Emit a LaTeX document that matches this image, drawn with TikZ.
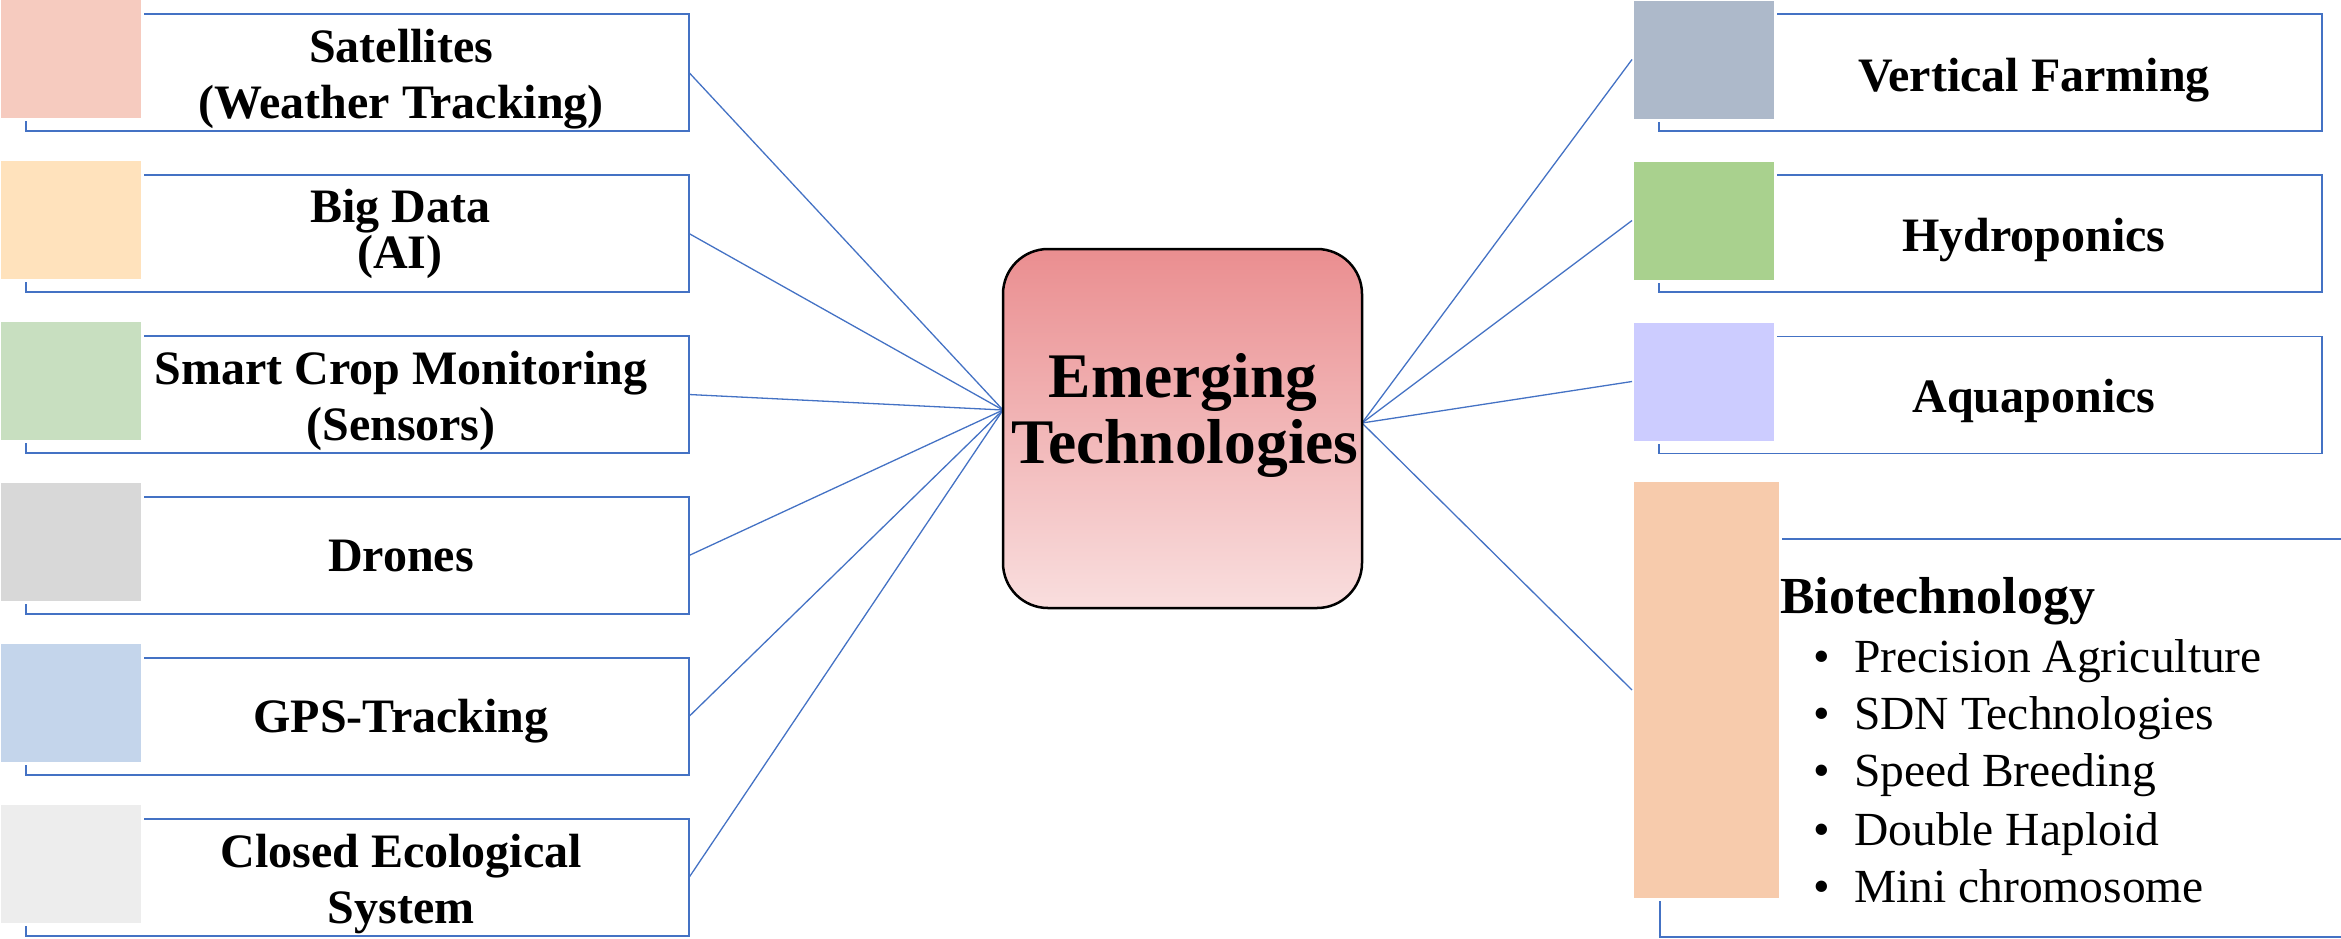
\documentclass[tikz,border=0pt]{standalone}
\usepackage{fontspec}
\setmainfont{Liberation Serif}
\definecolor{oblue}{RGB}{68,114,196}
\definecolor{cA}{RGB}{246,203,191}
\definecolor{cB}{RGB}{255,226,188}
\definecolor{cC}{RGB}{200,223,192}
\definecolor{cD}{RGB}{216,216,216}
\definecolor{cE}{RGB}{196,213,235}
\definecolor{cF}{RGB}{237,237,237}
\definecolor{cG}{RGB}{173,185,202}
\definecolor{cH}{RGB}{169,209,142}
\definecolor{cI}{RGB}{204,204,255}
\definecolor{cJ}{RGB}{247,203,172}
\definecolor{ctop}{RGB}{234,142,144}
\definecolor{cbot}{RGB}{249,222,222}
\newcommand\labfont{\fontsize{48}{56}\selectfont\bfseries}
\newcommand\biofont{\fontsize{52}{60}\selectfont\bfseries}
\newcommand\itemfont{\fontsize{47.5}{56}\selectfont}
\newcommand\cenfont{\fontsize{63.5}{66}\selectfont\bfseries}
\begin{document}
\begin{tikzpicture}[x=1pt,y=-1pt,
  outl/.style={draw=oblue, line width=1.5pt, fill=white, rectangle, inner sep=0pt, outer sep=0pt, minimum width=663pt, minimum height=117pt},
  sq/.style={draw=white, line width=3pt, fill=#1, rectangle, inner sep=0pt, outer sep=0pt, minimum width=143pt, minimum height=121pt},
  conn/.style={draw=oblue, line width=1.3pt},
  lab/.style={inner sep=0pt, anchor=base, font=\labfont},
  cen/.style={draw=black, line width=2.5pt, rounded corners=45pt, top color=ctop, bottom color=cbot, minimum width=359pt, minimum height=359pt, inner sep=0pt, outer sep=0pt}
]
\path[use as bounding box] (0,0) rectangle (2341,938);
\clip (0,0) rectangle (2341,938);

% connection points on the central box
\coordinate (cl) at (1003,410);
\coordinate (cr) at (1362,423);

% left outlines
\node[outl] (L1) at (357.5,72.5) {};
\node[outl] (L2) at (357.5,233.5) {};
\node[outl] (L3) at (357.5,394.5) {};
\node[outl] (L4) at (357.5,555.5) {};
\node[outl] (L5) at (357.5,716.5) {};
\node[outl] (L6) at (357.5,877.5) {};
% left squares
\node[sq=cA] (sL1) at (70.5,59) {};
\node[sq=cB] (sL2) at (70.5,220) {};
\node[sq=cC] (sL3) at (70.5,381) {};
\node[sq=cD] (sL4) at (70.5,542) {};
\node[sq=cE] (sL5) at (70.5,703) {};
\node[sq=cF] (sL6) at (70.5,864) {};

% right outlines
\node[outl] (R1) at (1990.5,72.5) {};
\node[outl] (R2) at (1990.5,233.5) {};
\node[outl] (R3) at (1990.5,395) {};
\node[outl, minimum width=740pt, minimum height=398pt] (R4) at (2030,738) {};
% right squares
\node[sq=cG] (sR1) at (1703.5,59.5) {};
\node[sq=cH] (sR2) at (1703.5,220.5) {};
\node[sq=cI] (sR3) at (1703.5,381.5) {};
\node[sq=cJ, minimum width=148pt, minimum height=419pt] (sR4) at (1706,690) {};

% connectors
\foreach \n in {L1,L2,L3,L4,L5,L6} \draw[conn] (\n.east) -- (cl);
\foreach \n in {sR1,sR2,sR3,sR4} \draw[conn] (cr) -- (\n.west);

% centre
\node[cen] (C) at (1182.5,428.5) {};
\node[inner sep=0pt, anchor=base, font=\cenfont] (c1) at (1183,397) {Emerging};
\node[inner sep=0pt, anchor=base, font=\cenfont] (c2) at (1185,463) {Technologies};

% left labels
\node[lab] (t1a) at (401,62) {Satellites};
\node[lab] (t1b) at (401,118) {(Weather Tracking)};
\node[lab] (t2a) at (400,222) {Big Data};
\node[lab] (t2b) at (400,268) {(AI)};
\node[lab] (t3a) at (401,384) {Smart Crop Monitoring};
\node[lab] (t3b) at (401,440) {(Sensors)};
\node[lab] (t4) at (401,571) {Drones};
\node[lab] (t5) at (401,732) {GPS-Tracking};
\node[lab] (t6a) at (401,867) {Closed Ecological};
\node[lab] (t6b) at (401,923) {System};

% right labels
\node[lab] (r1) at (2034,91) {Vertical Farming};
\node[lab] (r2) at (2034,251) {Hydroponics};
\node[lab] (r3) at (2034,412) {Aquaponics};

% biotechnology
\node[inner sep=0pt, anchor=base west, font=\biofont] (bt) at (1780,613) {Biotechnology};
\foreach \y/\t [count=\i] in {672/Precision Agriculture, 729/SDN Technologies, 786/Speed Breeding, 845/Double Haploid, 902/Mini chromosome}
  \node[inner sep=0pt, anchor=base west, font=\itemfont] (bi\i) at (1813,\y) {\makebox[41pt][l]{•}\t};
\end{tikzpicture}
\end{document}
